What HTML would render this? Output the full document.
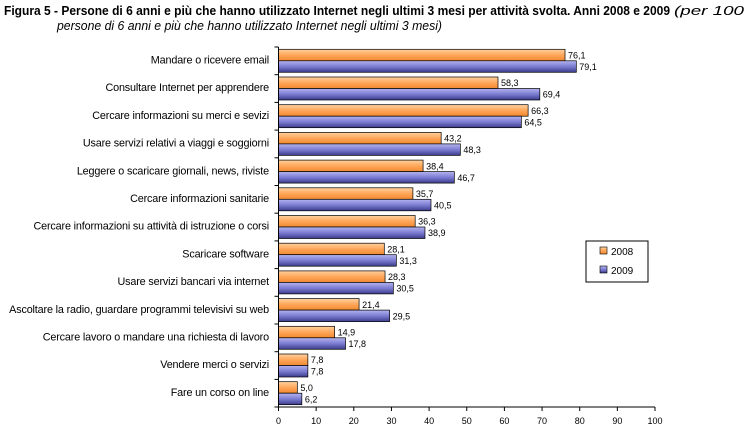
<!DOCTYPE html>
<html><head><meta charset="utf-8"><style>
body{margin:0;background:#fff;}
svg{display:block;font-family:"Liberation Sans",sans-serif;}
</style></head><body>
<svg width="746" height="429" viewBox="0 0 746 429" xmlns="http://www.w3.org/2000/svg">
<defs>
<linearGradient id="go" x1="0" y1="0" x2="0" y2="1"><stop offset="0" stop-color="#ffd2a0"/><stop offset="0.5" stop-color="#ffa65a"/><stop offset="1" stop-color="#f08a30"/></linearGradient>
<linearGradient id="gb" x1="0" y1="0" x2="0" y2="1"><stop offset="0" stop-color="#b4b4f0"/><stop offset="0.5" stop-color="#7c7cd2"/><stop offset="1" stop-color="#3c3c8c"/></linearGradient>
</defs>
<text x="4" y="15" font-size="13" font-weight="bold" textLength="666" lengthAdjust="spacingAndGlyphs">Figura 5 - Persone di 6 anni e più che hanno utilizzato Internet negli ultimi 3 mesi per attività svolta. Anni 2008 e 2009</text>
<text x="674" y="15" font-size="13" font-style="italic" textLength="70" lengthAdjust="spacingAndGlyphs">(per 100</text>
<text x="57" y="30" font-size="13" font-style="italic" textLength="385" lengthAdjust="spacingAndGlyphs">persone di 6 anni e più che hanno utilizzato Internet negli ultimi 3 mesi)</text>
<g id="bars"></g>
<line x1="278.5" y1="47" x2="278.5" y2="407" stroke="#000"/>
<line x1="278.5" y1="407" x2="655" y2="407" stroke="#000"/>
<g id="ticks" stroke="#000"></g>
<g id="xl" font-size="9" text-anchor="middle"></g>
<rect x="586" y="241" width="62" height="41" fill="#fff" stroke="#000"/>
<rect x="600" y="247" width="7" height="7" fill="url(#go)" stroke="#000" stroke-width="0.6"/>
<text x="611" y="255" font-size="10">2008</text>
<rect x="600" y="266" width="7" height="7" fill="url(#gb)" stroke="#000" stroke-width="0.6"/>
<text x="611" y="274" font-size="10">2009</text>
<script>
var cats=[["Mandare o ricevere email",76.1,79.1,"76,1","79,1"],
["Consultare Internet per apprendere",58.3,69.4,"58,3","69,4"],
["Cercare informazioni su merci e sevizi",66.3,64.5,"66,3","64,5"],
["Usare servizi relativi a viaggi e soggiorni",43.2,48.3,"43,2","48,3"],
["Leggere o scaricare giornali, news, riviste",38.4,46.7,"38,4","46,7"],
["Cercare informazioni sanitarie",35.7,40.5,"35,7","40,5"],
["Cercare informazioni su attività di istruzione o corsi",36.3,38.9,"36,3","38,9"],
["Scaricare  software",28.1,31.3,"28,1","31,3"],
["Usare servizi bancari via internet",28.3,30.5,"28,3","30,5"],
["Ascoltare la radio, guardare programmi televisivi su web",21.4,29.5,"21,4","29,5"],
["Cercare lavoro o mandare una richiesta di lavoro",14.9,17.8,"14,9","17,8"],
["Vendere merci o servizi",7.8,7.8,"7,8","7,8"],
["Fare un corso on line",5.0,6.2,"5,0","6,2"]];
var ns="http://www.w3.org/2000/svg",x0=278.5,k=3.765,bh=27.7;
var g=document.getElementById("bars"),t=document.getElementById("ticks"),xl=document.getElementById("xl");
function el(p,n,a,txt){var e=document.createElementNS(ns,n);for(var i in a)e.setAttribute(i,a[i]);if(txt!=null)e.textContent=txt;p.appendChild(e);return e;}
cats.forEach(function(c,i){var top=47+i*bh;
el(g,"rect",{x:x0,y:top+2.3,width:c[1]*k,height:11.5,fill:"url(#go)",stroke:"#000","stroke-width":0.7});
el(g,"rect",{x:x0,y:top+13.8,width:c[2]*k,height:11.5,fill:"url(#gb)",stroke:"#000","stroke-width":0.7});
el(g,"text",{x:x0+c[1]*k+3,y:top+11.5,"font-size":9},c[3]);
el(g,"text",{x:x0+c[2]*k+3,y:top+23,"font-size":9},c[4]);
el(g,"text",{x:269,y:top+16.5,"font-size":10.8,"text-anchor":"end","letter-spacing":"-0.15"},c[0]);
el(t,"line",{x1:274.5,x2:278.5,y1:top,y2:top});});
el(t,"line",{x1:274.5,x2:278.5,y1:407,y2:407});
for(var v=0;v<=100;v+=10){var x=x0+v*k;el(t,"line",{x1:x,x2:x,y1:407,y2:411});el(xl,"text",{x:x,y:424},String(v));}
</script>
</svg>
</body></html>
